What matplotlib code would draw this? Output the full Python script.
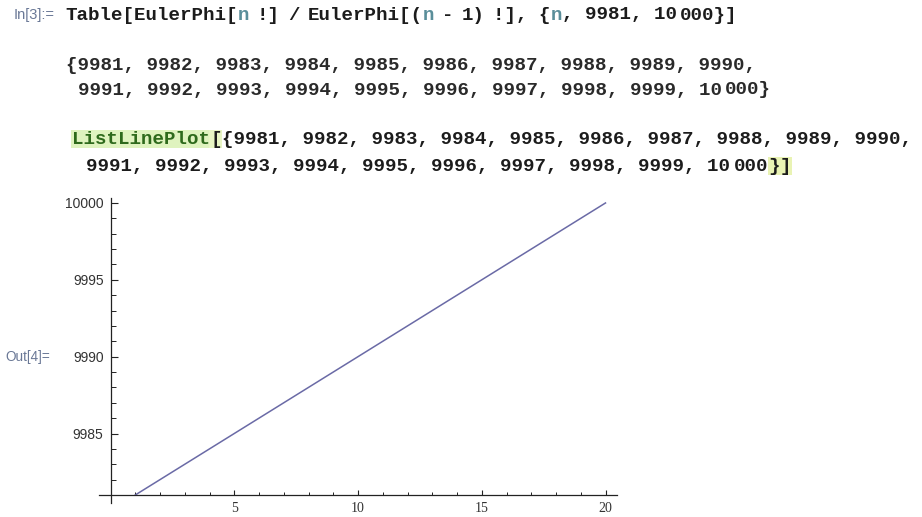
import matplotlib
matplotlib.use("Agg")
import matplotlib.pyplot as plt
from matplotlib.ticker import MultipleLocator

# data
values = [9981, 9982, 9983, 9984, 9985, 9986, 9987, 9988, 9989, 9990,
          9991, 9992, 9993, 9994, 9995, 9996, 9997, 9998, 9999, 10000]
xs = list(range(1, len(values) + 1))
xticks = [5, 10, 15, 20]
yticks = [9985, 9990, 9995, 10000]

W, H = 922, 517
fig = plt.figure(figsize=(W / 100, H / 100), dpi=100)
fig.patch.set_facecolor("white")
renderer = fig.canvas.get_renderer()

MONO = ["Liberation Mono", "DejaVu Sans Mono"]
SANS = ["Liberation Sans", "DejaVu Sans"]
CODE_SIZE = 13.8
CW = CODE_SIZE * 100 / 72 * 0.6   # advance of one mono char, px
INK = "#1c1c1c"
OUT_INK = "#2a2a2a"
TEAL = "#5a8e9a"
LABEL = "#6a7896"


def px(x, y):
    return x / W, 1 - y / H


def pieces(x, y, parts):
    # draw colored pieces of a code line one after another
    for txt, color, bg in parts:
        if txt is None:          # narrow space, width given in chars
            x += color * CW
            continue
        kw = {}
        if bg:
            kw["bbox"] = dict(facecolor=bg, edgecolor="none", pad=0.6)
        t = fig.text(*px(x, y), txt, family=MONO, weight="bold", size=CODE_SIZE,
                     color=color, va="center", ha="left", **kw)
        x += t.get_window_extent(renderer).width


nums1 = ", ".join(str(v) for v in values[:10]) + ","
nums2 = ", ".join(str(v) for v in values[10:19]) + ", 10"
last = str(values[-1])[2:]

# input cell
fig.text(*px(55, 15), "In[3]:=", size=10.5, color=LABEL, va="center", ha="right", family=SANS)
pieces(65, 15, [("Table[EulerPhi[", INK, None), ("n", TEAL, None), (None, 0.7, None),
                ("!]", INK, None), (None, 0.7, None), ("/", INK, None), (None, 0.7, None),
                ("EulerPhi[(", INK, None), ("n", TEAL, None), (None, 0.7, None),
                ("-", INK, None), (None, 0.7, None), ("1)", INK, None), (None, 0.7, None),
                ("!], {", INK, None), ("n", TEAL, None), (", 9981, 10", INK, None),
                (None, 0.3, None), ("000}]", INK, None)])

# output list
pieces(66, 65, [("{" + nums1, OUT_INK, None)])
pieces(66 + CW, 90, [(nums2, OUT_INK, None), (None, 0.3, None), (last + "}", OUT_INK, None)])

# ListLinePlot input
pieces(72, 139, [("ListLinePlot", "#2e6a1c", "#dff3bf"), ("[", INK, "#e8f5c4"),
                 ("{" + nums1, INK, None)])
pieces(72 + 1.26 * CW, 166, [(nums2, INK, None), (None, 0.3, None), (last, INK, None),
                              ("}", INK, "#e9f3b4"), ("]", INK, "#e9f3b4")])

fig.text(*px(50, 357), "Out[4]=", size=9.8, color=LABEL, va="center", ha="right", family=SANS)

# plot area in pixels
x0, ux = 110.5, 24.75
yb, uy = 495.0, 15.37
xl = (-0.45, 20.45)
yl = (9980.5, 10000.3)
left = x0 + xl[0] * ux
right = x0 + xl[1] * ux
bottom = yb + (9981 - yl[0]) * uy
top = yb - (yl[1] - 9981) * uy
ax = fig.add_axes([left / W, 1 - bottom / H, (right - left) / W, (bottom - top) / H])
ax.set_xlim(*xl)
ax.set_ylim(*yl)
ax.patch.set_alpha(0)

ax.plot(xs, values, color="#6a6aa6", lw=1.1)

for s in ["top", "right"]:
    ax.spines[s].set_visible(False)
ax.spines["left"].set_position(("data", 0))
ax.spines["bottom"].set_position(("data", 9981))
for s in ["left", "bottom"]:
    ax.spines[s].set_linewidth(0.9)
    ax.spines[s].set_color("#222222")

ax.set_xticks(xticks)
ax.set_yticks(yticks)
ax.set_yticklabels([str(v) for v in yticks], family=SANS)
ax.set_xticklabels([str(v) for v in xticks], family=["Liberation Serif", "DejaVu Serif"])
ax.xaxis.set_minor_locator(MultipleLocator(1))
ax.yaxis.set_minor_locator(MultipleLocator(1))
ax.tick_params(which="both", direction="in", colors="#222222", labelcolor="#333333")
ax.tick_params(axis="y", which="major", length=5, width=0.8, labelsize=10, pad=5)
ax.tick_params(axis="y", which="minor", length=3.5, width=0.7)
ax.tick_params(axis="x", which="major", length=3.5, width=0.8, labelsize=10, pad=5)
ax.tick_params(axis="x", which="minor", length=2.2, width=0.7)

fig.savefig("out.png", dpi=100, facecolor="white")
